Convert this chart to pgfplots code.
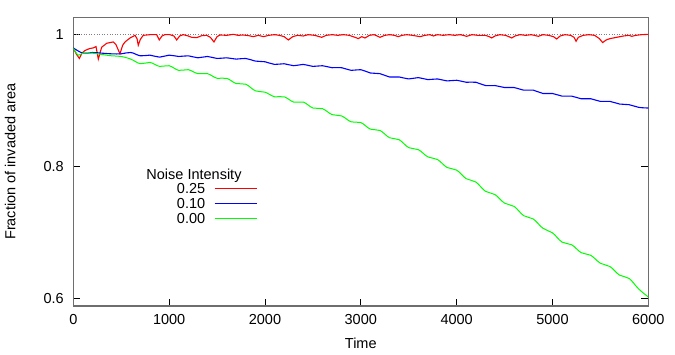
\documentclass[border=0pt]{standalone}
\usepackage{fontspec}
\setmainfont{Liberation Sans}
\usepackage{pgfplots}
\pgfplotsset{compat=1.18}
\newcommand{\fs}{\fontsize{14.5}{17}\selectfont}
\definecolor{framegray}{RGB}{110,110,110}

\begin{document}
\begin{tikzpicture}
\useasboundingbox (-73.3pt,-48pt) rectangle (601.7pt,306pt);
\begin{axis}[width=575pt,height=288.7pt,scale only axis,
    xmin=0,xmax=6000,ymin=0.5883,ymax=1.0253,
    xtick={0,1000,2000,3000,4000,5000,6000},
    ytick={0.6,0.8,1},
    scaled x ticks=false,
    /pgf/number format/assume math mode=true,
    /pgf/number format/1000 sep={},
    tick align=inside,major tick length=7pt,
    tick style={black,line width=0.8pt},
    axis line style={draw=framegray,line width=1.2pt},
    every tick label/.append style={font=\fs},
    xticklabel style={yshift=-5pt},
    yticklabel style={xshift=-6pt},
    xlabel={Time},ylabel={Fraction of invaded area},
    every axis x label/.style={at={(axis description cs:0.5,-0.128)},anchor=center,font=\fs},
    every axis y label/.style={at={(axis description cs:-0.1096,0.5)},anchor=center,rotate=90,font=\fs},
    legend style={at={(axis description cs:0.3195,0.430)},anchor=north east,
      draw=none,fill=none,font=\fs,inner sep=0pt,row sep=2.5pt,column sep=8pt,
      nodes={inner sep=1pt,text height=10.5pt,text depth=0pt}},
    legend cell align=right,legend plot pos=right,
    legend image code/.code={\draw[#1,line width=0.6pt] (0pt,0pt) -- (42pt,0pt);},
  ]
  \addplot[gray,dotted,line width=0.6pt,forget plot] coordinates {(0,1)(6000,1)};

  % noise 0.25
  \addplot[red,line width=1.1pt] coordinates {
    (0,0.979)(30,0.970)(63,0.963)(90,0.971)(122,0.975)(170,0.978)(209,0.979)(237,0.981)
    (261,0.962)(296,0.980)(349,0.986)(417,0.988)(445,0.984)(487,0.970)(515,0.983)(540,0.988)
    (592,0.994)(644,0.998)(665,0.993)(678,0.983)(700,0.992)(730,0.998)(800,0.999)(870,0.999)
    (897,0.991)(925,0.997)(957,0.999)(1009,0.999)(1050,0.997)(1079,0.991)(1110,0.997)(1148,0.999)
    (1200,0.997)(1235,0.995)(1288,0.9945)(1340,0.9975)(1392,0.998)(1430,0.995)(1468,0.988)(1500,0.996)
    (1531,0.9985)(1601,0.998)(1670,0.9995)(1720,0.998)(1774,0.9985)(1830,0.9975)(1878,0.996)(1930,0.998)
    (1986,0.996)(2040,0.998)(2100,0.999)(2150,0.998)(2200,0.996)(2244,0.991)(2290,0.996)(2340,0.998)
    (2400,0.997)(2450,0.999)(2520,0.998)(2592,0.995)(2640,0.998)(2700,0.999)(2760,0.998)(2820,0.999)
    (2880,0.998)(2940,0.995)(2974,0.993)(3010,0.996)(3044,0.994)(3090,0.998)(3140,0.999)(3200,0.995)
    (3250,0.998)(3300,0.999)(3350,0.998)(3391,0.996)(3430,0.998)(3480,0.999)(3540,0.998)(3618,0.996)
    (3670,0.998)(3720,0.999)(3758,0.997)(3800,0.999)(3860,0.998)(3920,0.999)(3980,0.998)(4040,0.999)
    (4105,0.9965)(4160,0.999)(4220,0.998)(4300,0.998)(4340,0.996)(4366,0.994)(4400,0.997)(4450,0.999)
    (4510,0.998)(4545,0.996)(4575,0.994)(4610,0.997)(4660,0.999)(4720,0.998)(4780,0.999)(4853,0.9965)
    (4900,0.999)(4960,0.998)(5010,0.996)(5044,0.9925)(5080,0.997)(5130,0.999)(5190,0.998)(5225,0.995)
    (5246,0.989)(5270,0.995)(5320,0.998)(5380,0.999)(5440,0.998)(5490,0.993)(5524,0.987)(5560,0.991)
    (5600,0.993)(5670,0.995)(5740,0.997)(5800,0.998)(5827,0.9965)(5870,0.998)(5930,0.999)(6000,0.9995)};
  \addlegendentry{0.25}

  % noise 0.10
  \addplot[blue,line width=1.1pt,smooth,tension=0.6] coordinates {
    (0,0.979)(100,0.971)(200,0.972)(300,0.971)(400,0.970)(500,0.970)(600,0.972)(700,0.967)
    (800,0.968)(900,0.965)(1000,0.968)(1100,0.966)(1200,0.967)(1300,0.964)(1400,0.966)(1500,0.963)
    (1600,0.964)(1700,0.962)(1800,0.963)(1900,0.959)(2000,0.958)(2100,0.954)(2200,0.955)(2300,0.952)
    (2400,0.954)(2500,0.951)(2600,0.952)(2700,0.949)(2800,0.949)(2900,0.945)(3000,0.946)(3100,0.941)
    (3200,0.940)(3300,0.935)(3400,0.935)(3500,0.932)(3600,0.934)(3700,0.931)(3800,0.932)(3900,0.929)
    (4000,0.930)(4100,0.927)(4200,0.927)(4300,0.922)(4400,0.922)(4500,0.919)(4600,0.919)(4700,0.915)
    (4800,0.915)(4900,0.910)(5000,0.910)(5100,0.906)(5200,0.906)(5300,0.902)(5400,0.902)(5500,0.898)
    (5600,0.898)(5700,0.894)(5800,0.893)(5900,0.889)(6000,0.888)};
  \addlegendentry{0.10}

  % noise 0.00
  \addplot[green,line width=1.0pt,smooth,tension=0.6] coordinates {
    (0,0.979)(50,0.968)(100,0.971)(200,0.971)(300,0.969)(400,0.967)(500,0.966)(600,0.962)
    (700,0.955)(800,0.957)(900,0.951)(1000,0.952)(1100,0.945)(1200,0.946)(1300,0.940)(1400,0.940)
    (1500,0.933)(1600,0.933)(1700,0.925)(1800,0.924)(1900,0.914)(2000,0.912)(2100,0.905)(2200,0.905)
    (2300,0.897)(2400,0.897)(2500,0.888)(2600,0.887)(2700,0.878)(2800,0.876)(2900,0.867)(3000,0.866)
    (3100,0.856)(3200,0.854)(3300,0.843)(3400,0.840)(3500,0.828)(3600,0.825)(3700,0.814)(3800,0.810)
    (3900,0.798)(4000,0.794)(4100,0.781)(4200,0.776)(4300,0.762)(4400,0.757)(4500,0.744)(4600,0.739)
    (4700,0.725)(4800,0.720)(4900,0.706)(5000,0.699)(5100,0.685)(5200,0.681)(5300,0.669)(5400,0.665)
    (5500,0.653)(5600,0.648)(5700,0.635)(5800,0.630)(5900,0.614)(6000,0.602)};
  \addlegendentry{0.00}

  \node[font=\fs,anchor=center] at (axis description cs:0.2099,0.4513) {Noise Intensity};
\end{axis}
\end{tikzpicture}
\end{document}
